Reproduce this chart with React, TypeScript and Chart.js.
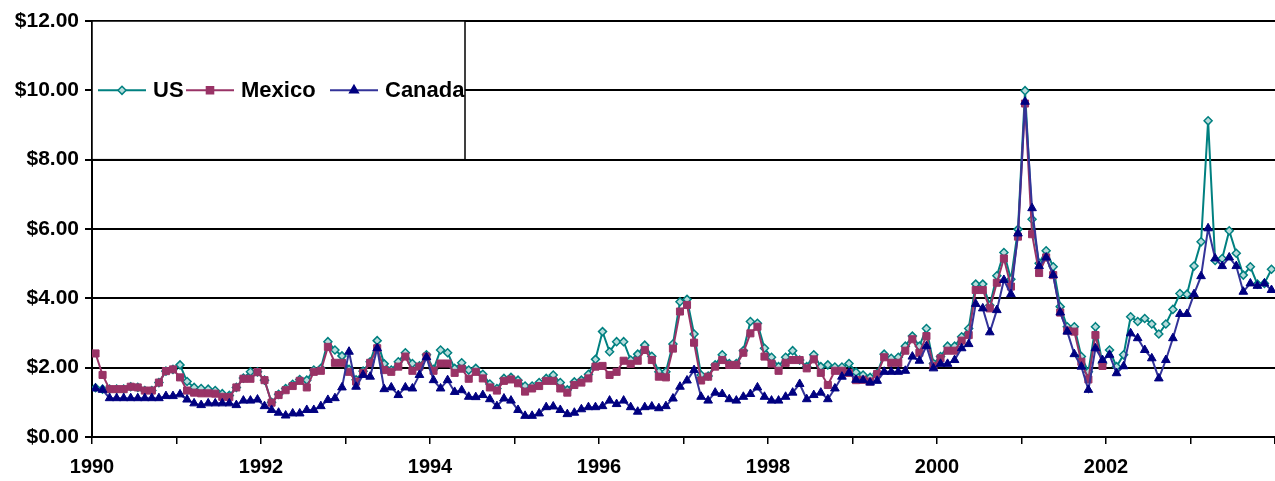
import React, { useEffect, useRef } from 'react';
import { Chart, registerables } from 'chart.js';

Chart.register(...registerables);

// ---- data (monthly average prices, Jan 1990 .. Dec 2003) ----
const START_YEAR = 1990;
const END_YEAR = 2004;
const seriesNames = ['US', 'Mexico', 'Canada'];
const xTickLabels = ['1990', '1992', '1994', '1996', '1998', '2000', '2002'];
const yTickValues = [0, 2, 4, 6, 8, 10, 12];

const usPrices = [
  1.42, 1.38, 1.38, 1.38, 1.38, 1.45, 1.43, 1.34, 1.34, 1.57,
  1.90, 1.95, 2.08, 1.60, 1.43, 1.40, 1.38, 1.34, 1.25, 1.20,
  1.43, 1.70, 1.88, 1.88, 1.64, 1.00, 1.23, 1.40, 1.52, 1.66,
  1.64, 1.93, 1.98, 2.75, 2.51, 2.34, 1.95, 1.65, 1.90, 2.17,
  2.78, 2.11, 1.93, 2.17, 2.43, 2.12, 2.05, 2.37, 1.95, 2.51,
  2.43, 1.98, 2.14, 1.93, 1.98, 1.81, 1.53, 1.40, 1.69, 1.72,
  1.64, 1.47, 1.47, 1.57, 1.69, 1.79, 1.57, 1.36, 1.59, 1.64,
  1.81, 2.24, 3.04, 2.46, 2.75, 2.75, 2.22, 2.39, 2.65, 2.33,
  1.88, 1.88, 2.68, 3.90, 3.97, 2.97, 1.79, 1.76, 2.08, 2.37,
  2.12, 2.12, 2.49, 3.33, 3.28, 2.56, 2.30, 2.03, 2.30, 2.49,
  2.22, 2.03, 2.37, 2.03, 2.08, 2.02, 2.02, 2.12, 1.87, 1.79,
  1.72, 1.84, 2.39, 2.27, 2.30, 2.62, 2.91, 2.62, 3.13, 2.12,
  2.32, 2.62, 2.62, 2.89, 3.13, 4.41, 4.41, 3.80, 4.65, 5.32,
  4.55, 5.99, 9.99, 6.28, 5.01, 5.37, 4.91, 3.76, 3.18, 3.18,
  2.32, 1.88, 3.18, 2.12, 2.51, 2.03, 2.37, 3.47, 3.33, 3.42,
  3.26, 2.97, 3.26, 3.68, 4.14, 4.12, 4.93, 5.63, 9.12, 5.09,
  5.15, 5.95, 5.30, 4.67, 4.91, 4.41, 4.43, 4.84,
];

const mexicoPrices = [
  2.41, 1.79, 1.38, 1.38, 1.38, 1.45, 1.43, 1.34, 1.34, 1.57,
  1.90, 1.95, 1.72, 1.34, 1.28, 1.26, 1.26, 1.25, 1.16, 1.15,
  1.43, 1.68, 1.68, 1.87, 1.64, 0.99, 1.21, 1.35, 1.47, 1.62,
  1.43, 1.88, 1.91, 2.60, 2.14, 2.14, 1.88, 1.60, 1.85, 2.14,
  2.56, 1.93, 1.88, 2.03, 2.32, 1.91, 2.03, 2.32, 1.91, 2.12,
  2.12, 1.85, 1.97, 1.68, 1.88, 1.69, 1.43, 1.34, 1.62, 1.66,
  1.55, 1.31, 1.40, 1.47, 1.62, 1.62, 1.40, 1.28, 1.50, 1.57,
  1.69, 2.03, 2.05, 1.79, 1.88, 2.20, 2.11, 2.20, 2.51, 2.22,
  1.74, 1.72, 2.55, 3.62, 3.81, 2.72, 1.63, 1.74, 2.03, 2.22,
  2.08, 2.08, 2.43, 2.99, 3.18, 2.32, 2.12, 1.91, 2.14, 2.22,
  2.22, 1.98, 2.24, 1.85, 1.50, 1.91, 1.91, 1.85, 1.64, 1.65,
  1.60, 1.82, 2.30, 2.14, 2.14, 2.49, 2.82, 2.43, 2.91, 2.05,
  2.27, 2.49, 2.49, 2.78, 2.94, 4.24, 4.24, 3.71, 4.45, 5.15,
  4.34, 5.78, 9.62, 5.85, 4.73, 5.18, 4.67, 3.59, 3.07, 3.04,
  2.17, 1.66, 2.94, 2.05,
  null, null, null, null, null, null, null, null, null, null,
  null, null, null, null, null, null, null, null, null, null,
  null, null, null, null,
];

const canadaPrices = [
  1.40, 1.36, 1.12, 1.12, 1.12, 1.12, 1.12, 1.12, 1.12, 1.12,
  1.18, 1.18, 1.23, 1.08, 0.97, 0.92, 0.97, 0.97, 0.97, 0.97,
  0.92, 1.05, 1.05, 1.08, 0.89, 0.78, 0.70, 0.62, 0.68, 0.68,
  0.78, 0.78, 0.89, 1.07, 1.12, 1.43, 2.46, 1.45, 1.79, 1.74,
  2.56, 1.38, 1.43, 1.21, 1.43, 1.40, 1.79, 2.30, 1.64, 1.40,
  1.64, 1.30, 1.35, 1.16, 1.15, 1.21, 1.09, 0.89, 1.11, 1.05,
  0.78, 0.61, 0.61, 0.68, 0.86, 0.88, 0.78, 0.66, 0.70, 0.80,
  0.86, 0.86, 0.89, 1.05, 0.95, 1.05, 0.86, 0.73, 0.86, 0.88,
  0.83, 0.89, 1.11, 1.45, 1.63, 1.93, 1.16, 1.05, 1.28, 1.24,
  1.09, 1.05, 1.16, 1.24, 1.43, 1.16, 1.05, 1.05, 1.16, 1.28,
  1.53, 1.09, 1.21, 1.28, 1.09, 1.40, 1.74, 1.85, 1.65, 1.64,
  1.57, 1.62, 1.88, 1.88, 1.88, 1.91, 2.32, 2.20, 2.62, 1.98,
  2.11, 2.11, 2.22, 2.56, 2.68, 3.84, 3.71, 3.02, 3.66, 4.53,
  4.12, 5.87, 9.67, 6.60, 4.93, 5.18, 4.67, 3.59, 3.04, 2.39,
  2.03, 1.36, 2.56, 2.22, 2.37, 1.84, 2.04, 2.99, 2.85, 2.51,
  2.27, 1.69, 2.22, 2.85, 3.55, 3.55, 4.12, 4.64, 6.02, 5.15,
  4.93, 5.18, 4.93, 4.19, 4.43, 4.36, 4.43, 4.24,
];

// ---- styles ----
const US_COLOR = '#008080';
const US_FILL = '#b8dcdc';
const MX_COLOR = '#993366';
const CA_LINE = '#333399';
const CA_MARK = '#000080';
const FONT_FAMILY = '"Liberation Sans", Arial, Helvetica, sans-serif';

function toPoints(values: (number | null)[]) {
  // each monthly value is plotted at the middle of its month
  return values.map((v, i) => ({ x: START_YEAR + (i + 0.5) / 12, y: v }));
}

function drawMarker(ctx: CanvasRenderingContext2D, style: string, x: number, y: number, r: number, fill: string, stroke: string) {
  ctx.save();
  ctx.beginPath();
  if (style === 'rectRot') {
    ctx.moveTo(x, y - r);
    ctx.lineTo(x + r, y);
    ctx.lineTo(x, y + r);
    ctx.lineTo(x - r, y);
  } else if (style === 'rect') {
    const s = r * Math.SQRT1_2;
    ctx.rect(x - s, y - s, 2 * s, 2 * s);
  } else {
    const w = r * Math.sin(Math.PI / 3);
    ctx.moveTo(x, y - r);
    ctx.lineTo(x + w, y + r / 2);
    ctx.lineTo(x - w, y + r / 2);
  }
  ctx.closePath();
  ctx.fillStyle = fill;
  ctx.fill();
  ctx.lineWidth = 1.5;
  ctx.strokeStyle = stroke;
  ctx.stroke();
  ctx.restore();
}

const legendItemX = [98, 186, 330];
const LEGEND_WIDTH = 373;

const legendBoxPlugin = {
  id: 'legendBox',
  afterDraw(chart: any) {
    const { ctx, chartArea, scales } = chart;
    const left = chartArea.left;
    const top = chartArea.top;
    const bottom = scales.y.getPixelForValue(8);
    const right = left + LEGEND_WIDTH;
    ctx.save();
    ctx.fillStyle = '#ffffff';
    ctx.fillRect(left, top, right - left, bottom - top);
    ctx.strokeStyle = '#000';
    ctx.lineWidth = 1.5;
    ctx.strokeRect(left, top, right - left, bottom - top);
    const cy = (top + bottom) / 2;
    chart.data.datasets.forEach((ds: any, i: number) => {
      const lx = legendItemX[i];
      ctx.beginPath();
      ctx.moveTo(lx, cy);
      ctx.lineTo(lx + 48, cy);
      ctx.strokeStyle = ds.borderColor;
      ctx.lineWidth = 2;
      ctx.stroke();
      drawMarker(ctx, ds.pointStyle, lx + 24, cy, ds.pointRadius, ds.pointBackgroundColor, ds.pointBorderColor);
      ctx.fillStyle = '#000';
      ctx.font = `bold 22px ${FONT_FAMILY}`;
      ctx.textBaseline = 'middle';
      ctx.textAlign = 'left';
      ctx.fillText(seriesNames[i], lx + 55, cy + 1);
    });
    ctx.restore();
  },
};

export default function App() {
  const canvasRef = useRef<HTMLCanvasElement>(null);

  useEffect(() => {
    document.body.style.margin = '0';
    const canvas = canvasRef.current;
    if (!canvas) return;
    const yearTicks: number[] = [];
    for (let y = START_YEAR; y <= END_YEAR; y++) yearTicks.push(y);

    const chart = new Chart(canvas, {
      type: 'line',
      data: {
        datasets: [
          {
            label: seriesNames[0],
            data: toPoints(usPrices),
            borderColor: US_COLOR,
            borderWidth: 2,
            pointStyle: 'rectRot',
            pointRadius: 4,
            pointBorderWidth: 1.5,
            pointBackgroundColor: US_FILL,
            pointBorderColor: US_COLOR,
            order: 2,
          },
          {
            label: seriesNames[1],
            data: toPoints(mexicoPrices),
            borderColor: MX_COLOR,
            borderWidth: 2,
            pointStyle: 'rect',
            pointRadius: 5,
            pointBorderWidth: 1,
            pointBackgroundColor: MX_COLOR,
            pointBorderColor: MX_COLOR,
            order: 1,
          },
          {
            label: seriesNames[2],
            data: toPoints(canadaPrices),
            borderColor: CA_LINE,
            borderWidth: 2,
            pointStyle: 'triangle',
            pointRadius: 5,
            pointBorderWidth: 1,
            pointBackgroundColor: CA_MARK,
            pointBorderColor: CA_MARK,
            order: 0,
          },
        ] as any,
      },
      options: {
        responsive: false,
        animation: false,
        devicePixelRatio: 1,
        layout: { autoPadding: false, padding: { top: 21, left: 0, right: 0, bottom: 0 } },
        plugins: { legend: { display: false }, tooltip: { enabled: false } },
        elements: { line: { tension: 0 } },
        scales: {
          x: {
            type: 'linear',
            min: START_YEAR,
            max: END_YEAR,
            afterFit: (s: any) => { s.height = 44; s.paddingRight = 0; s.paddingLeft = 0; },
            afterBuildTicks: (s: any) => { s.ticks = yearTicks.map((v) => ({ value: v })); },
            ticks: {
              autoSkip: false,
              maxRotation: 0,
              padding: 11,
              color: '#000',
              font: { family: FONT_FAMILY, size: 20, weight: 'bold' },
              callback: (v: any) => (xTickLabels.includes(String(v)) ? String(v) : ''),
            },
            grid: { drawOnChartArea: false, drawTicks: true, tickLength: 7, color: '#000', lineWidth: 1.5 },
            border: { color: '#000', width: 2 },
          },
          y: {
            min: 0,
            max: 12,
            afterFit: (s: any) => { s.width = 92; },
            afterBuildTicks: (s: any) => { s.ticks = yTickValues.map((v) => ({ value: v })); },
            ticks: {
              padding: 6,
              color: '#000',
              font: { family: FONT_FAMILY, size: 21, weight: 'bold' },
              callback: (v: any) => '$' + Number(v).toFixed(2),
            },
            grid: { color: '#000', lineWidth: 2, drawTicks: true, tickLength: 7 },
            border: { color: '#000', width: 2 },
          },
        },
      } as any,
      plugins: [legendBoxPlugin],
    });
    return () => chart.destroy();
  }, []);

  return (
    <div style={{ width: 1275, height: 481, position: 'relative' }}>
      <canvas ref={canvasRef} width={1275} height={481} style={{ display: 'block' }} />
    </div>
  );
}
